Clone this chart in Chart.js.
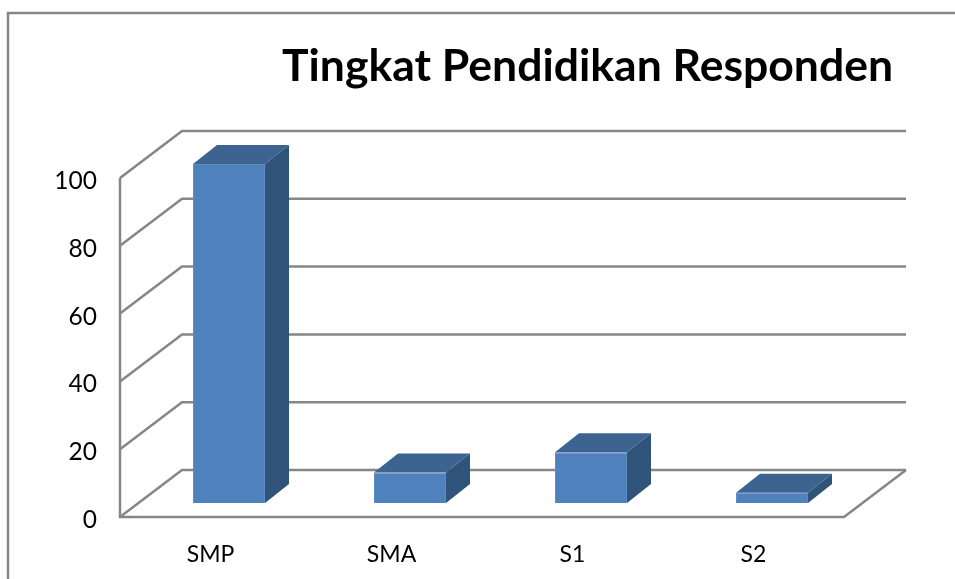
<!DOCTYPE html>
<html>
<head>
<meta charset="utf-8">
<title>Tingkat Pendidikan Responden</title>
<script src="https://cdn.jsdelivr.net/npm/chart.js@4/dist/chart.umd.js"></script>
<style>
    html, body { margin: 0; padding: 0; background: #fff; }
    #wrap { position: relative; width: 955px; height: 579px; overflow: hidden; }
    #chart-title {
        position: absolute; left: 282px; top: 37px; margin: 0;
        font: bold 44.5px Lato, sans-serif; color: #000; white-space: nowrap;
    }
</style>
</head>
<body>
<div id="wrap">
    <canvas id="chart" width="955" height="579"></canvas>
    <h1 id="chart-title">Tingkat Pendidikan Responden</h1>
</div>
<script>
"use strict"

const categories = ["SMP", "SMA", "S1", "S2"];
const respondents = [100, 9, 15, 3];
const yTicks = [0, 20, 40, 60, 80, 100];

// how far the 3d look pushes things back
const wallShift = { x: 62, y: -47 };
const barShift = { x: 18.5, y: -14 };
const barDepth = { x: 24, y: -19 };

const lineColor = "#868686";

// frame, walls and floor, behind the bars
const wallsPlugin = {
    id: "walls",
    beforeDatasetsDraw(chart) {
        const { ctx, chartArea, scales } = chart;
        ctx.save();
        ctx.strokeStyle = lineColor;
        ctx.lineWidth = 2.5;

        // outer frame, only top and left show in the picture
        ctx.beginPath();
        ctx.moveTo(8, 579);
        ctx.lineTo(8, 13);
        ctx.lineTo(955, 13);
        ctx.stroke();

        yTicks.forEach((tick) => {
            const y = scales.y.getPixelForValue(tick);
            ctx.beginPath();
            ctx.moveTo(chartArea.left, y);
            ctx.lineTo(chartArea.left + wallShift.x, y + wallShift.y);
            ctx.lineTo(chartArea.right + wallShift.x, y + wallShift.y);
            ctx.stroke();
        });

        // left axis and floor
        ctx.beginPath();
        ctx.moveTo(chartArea.left, chartArea.top);
        ctx.lineTo(chartArea.left, chartArea.bottom);
        ctx.lineTo(chartArea.right, chartArea.bottom);
        ctx.lineTo(chartArea.right + wallShift.x, chartArea.bottom + wallShift.y);
        ctx.stroke();
        ctx.restore();

        // bars stand in the middle of the floor
        ctx.save();
        ctx.translate(barShift.x, barShift.y);
    },
    afterDatasetsDraw(chart) {
        const { ctx } = chart;
        chart.getDatasetMeta(0).data.forEach((bar) => {
            const left = bar.x - bar.width / 2;
            const right = bar.x + bar.width / 2;

            // top face
            ctx.fillStyle = "#3D6491";
            ctx.beginPath();
            ctx.moveTo(left, bar.y);
            ctx.lineTo(left + barDepth.x, bar.y + barDepth.y);
            ctx.lineTo(right + barDepth.x, bar.y + barDepth.y);
            ctx.lineTo(right, bar.y);
            ctx.closePath();
            ctx.fill();

            // side face
            ctx.fillStyle = "#305379";
            ctx.beginPath();
            ctx.moveTo(right, bar.y);
            ctx.lineTo(right + barDepth.x, bar.y + barDepth.y);
            ctx.lineTo(right + barDepth.x, bar.base + barDepth.y);
            ctx.lineTo(right, bar.base);
            ctx.closePath();
            ctx.fill();
        });
        ctx.restore();
    }
};

new Chart(document.getElementById("chart"), {
    type: "bar",
    data: {
        labels: categories,
        datasets: [{
            data: respondents,
            backgroundColor: "#4F81BD",
            borderColor: "#5F8CC4",
            borderWidth: 1,
            barPercentage: 0.398,
            categoryPercentage: 1,
            clip: false,
        }]
    },
    options: {
        responsive: false,
        animation: false,
        layout: { padding: { top: 178, right: 111, left: 0, bottom: 0 } },
        plugins: {
            legend: { display: false },
            title: { display: false },
            tooltip: { enabled: false },
        },
        scales: {
            x: {
                grid: { display: false },
                border: { display: false },
                ticks: {
                    color: "#000",
                    padding: 16,
                    font: { family: "Lato", size: 23 },
                    maxRotation: 0,
                },
                afterFit(scale) { scale.height = 62; },
            },
            y: {
                min: 0,
                max: 100,
                grid: { display: false },
                border: { display: false },
                ticks: {
                    color: "#000",
                    stepSize: 20,
                    padding: 15,
                    labelOffset: 3,
                    font: { family: "Lato", size: 24.5 },
                },
                afterFit(scale) { scale.width = 120; },
            },
        },
    },
    plugins: [wallsPlugin],
});
</script>
</body>
</html>
